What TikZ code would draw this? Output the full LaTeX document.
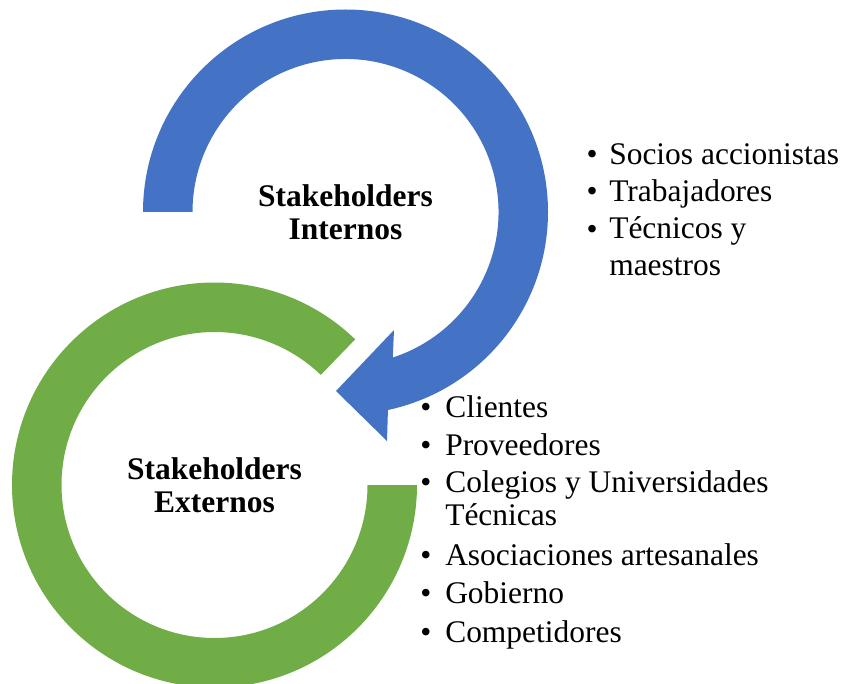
\documentclass[tikz,border=0pt]{standalone}
\usepackage{fontspec}
\setmainfont{Liberation Serif}
\usepackage{xcolor}
\usepackage{tikz}

\definecolor{ringblue}{HTML}{4472C4}
\definecolor{ringgreen}{HTML}{70AD47}

\begin{document}
\begin{tikzpicture}[x=0.75pt,y=0.75pt,yscale=-1,xscale=1,
  lbl/.style={font=\fontsize{23.6}{24.75}\selectfont\bfseries,align=center,inner sep=0pt},
  itm/.style={font=\fontsize{23.6}{27.4}\selectfont,anchor=base west,align=left,inner sep=0pt},
  bul/.style={font=\fontsize{23.6}{27.4}\selectfont,anchor=base,inner sep=0pt}]

\useasboundingbox (0,0) rectangle (845,684);

\coordinate (intC) at (345.5,212);
\coordinate (extC) at (214.5,485);

% green ring
\fill [ringgreen] ([shift={(-46:202.5)}]extC) arc [start angle=-46,end angle=-360,radius=202.5]
  -- ([shift={(0:153)}]extC) arc [start angle=-360,end angle=-46,radius=153] -- cycle;

% blue arrow
\coordinate (barbLo) at (387,441);
\coordinate (tip) at (336,391);
\coordinate (barbUp) at (394,330);
\fill [ringblue] ([shift={(180:202.5)}]intC) arc [start angle=180,end angle=437.9,radius=202.5]
  -- (barbLo) -- (tip) -- (barbUp)
  -- ([shift={(432:153)}]intC) arc [start angle=432,end angle=180,radius=153] -- cycle;

\node (intLbl) [lbl] at (intC) {Stakeholders\\Internos};
\node (extLbl) [lbl] at (extC) {Stakeholders\\Externos};

% internos (base = last line)
\node (b1) [bul] at (592,165) {\textbullet};
\node (b2) [bul] at (592,202) {\textbullet};
\node (b3) [bul] at (592,239) {\textbullet};
\node (socios) [itm] at (609,165) {Socios accionistas};
\node (trab) [itm] at (609,202) {Trabajadores};
\node (tecn) [itm] at (609,275.5) {Técnicos y\\maestros};

% externos
\node (b4) [bul] at (426,417) {\textbullet};
\node (b5) [bul] at (426,455) {\textbullet};
\node (b6) [bul] at (426,492) {\textbullet};
\node (b7) [bul] at (426,565) {\textbullet};
\node (b8) [bul] at (426,603) {\textbullet};
\node (b9) [bul] at (426,642) {\textbullet};
\node (clien) [itm] at (445,417) {Clientes};
\node (prov) [itm] at (445,455) {Proveedores};
\node (coleg) [itm,font=\fontsize{23.6}{24.75}\selectfont] at (445,525) {Colegios y Universidades\\Técnicas};
\node (asoc) [itm] at (445,565) {Asociaciones artesanales};
\node (gob) [itm] at (445,603) {Gobierno};
\node (comp) [itm] at (445,642) {Competidores};

\end{tikzpicture}
\end{document}
